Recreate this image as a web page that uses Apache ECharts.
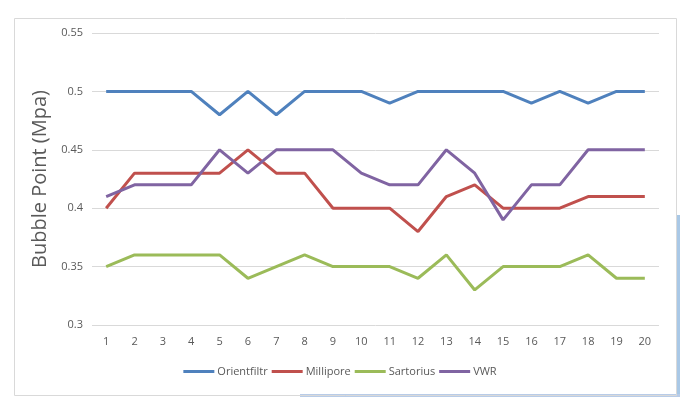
<!DOCTYPE html>
<html><head><meta charset="utf-8">
<script src="https://cdn.jsdelivr.net/npm/echarts@6/dist/echarts.min.js"></script>
<style>html,body{margin:0;padding:0;background:#fff}#c{width:680px;height:397px}</style>
</head><body><div id="c"></div>
<script>
const categories = ['1','2','3','4','5','6','7','8','9','10','11','12','13','14','15','16','17','18','19','20'];
const orientfiltr = [0.50,0.50,0.50,0.50,0.48,0.50,0.48,0.50,0.50,0.50,0.49,0.50,0.50,0.50,0.50,0.49,0.50,0.49,0.50,0.50];
const millipore   = [0.40,0.43,0.43,0.43,0.43,0.45,0.43,0.43,0.40,0.40,0.40,0.38,0.41,0.42,0.40,0.40,0.40,0.41,0.41,0.41];
const sartorius   = [0.35,0.36,0.36,0.36,0.36,0.34,0.35,0.36,0.35,0.35,0.35,0.34,0.36,0.33,0.35,0.35,0.35,0.36,0.34,0.34];
const vwr         = [0.41,0.42,0.42,0.42,0.45,0.43,0.45,0.45,0.45,0.43,0.42,0.42,0.45,0.43,0.39,0.42,0.42,0.45,0.45,0.45];
const seriesNames = ['Orientfiltr','Millipore','Sartorius','VWR'];
const colors = ['#4F81BD','#C0504D','#9BBB59','#8064A2'];
const yTitle = 'Bubble Point (Mpa)';

const chart = echarts.init(document.getElementById('c'), null, {renderer:'canvas'});
const font = '"Open Sans", "Liberation Sans", sans-serif';
const mk = (name, data, i) => ({
  name, type:'line', data, symbol:'none',
  lineStyle:{width:3, color:colors[i]}, itemStyle:{color:colors[i]}, z: 3
});
chart.setOption({
  animation:false,
  textStyle:{fontFamily:font},
  graphic:[
    {type:'rect', left:676, top:215, shape:{width:4, height:182}, style:{fill:'#a9c8e6'}, silent:true},
    {type:'rect', left:300, top:394, shape:{width:380, height:3}, style:{fill:'#b8cce8'}, silent:true},
    {type:'rect', left:12, top:16, shape:{width:662, height:377}, style:{fill:'none', stroke:'#d9d9d9', lineWidth:1}, silent:true}
  ],
  grid:{left:92, right:21, top:33, bottom:72, containLabel:false},
  legend:{
    bottom:15, left:'center', itemWidth:31, itemHeight:3, itemGap:4,
    icon:'rect',
    textStyle:{color:'#595959', fontSize:11, fontFamily:font, padding:[0,0,0,-2]},
    data:seriesNames
  },
  xAxis:{
    type:'category', data:categories, boundaryGap:true,
    axisLine:{show:false}, axisTick:{show:false},
    axisLabel:{color:'#595959', fontSize:11, margin:11, fontFamily:font}
  },
  yAxis:{
    type:'value', min:0.3, max:0.55, interval:0.05,
    name:yTitle, nameLocation:'middle', nameGap:36,
    nameTextStyle:{color:'#595959', fontSize:20, fontFamily:font},
    axisLine:{show:false}, axisTick:{show:false},
    splitLine:{lineStyle:{color:'#d9d9d9', width:1}},
    axisLabel:{color:'#595959', fontSize:11, margin:9, fontFamily:font,
      formatter: v => String(parseFloat(v.toFixed(2)))}
  },
  series:[mk(seriesNames[0],orientfiltr,0), mk(seriesNames[1],millipore,1), mk(seriesNames[2],sartorius,2), mk(seriesNames[3],vwr,3)]
});
</script></body></html>
